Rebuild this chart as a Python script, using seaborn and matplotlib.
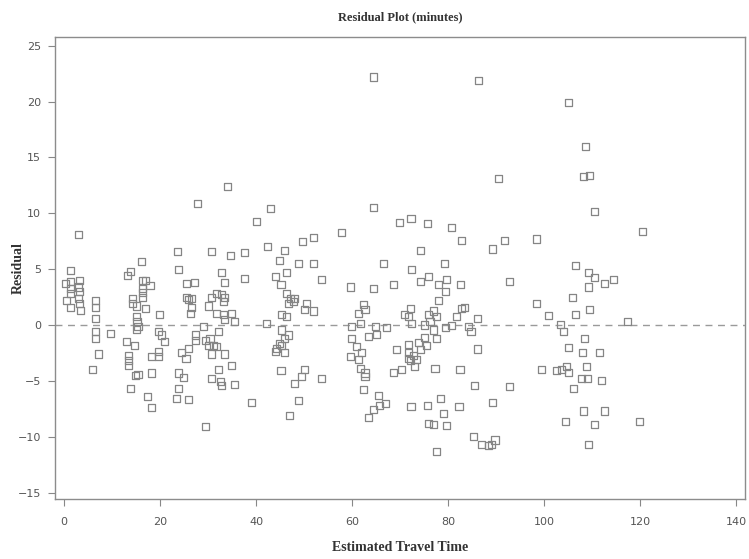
import matplotlib
matplotlib.use("Agg")
import matplotlib.pyplot as plt
import seaborn as sns
import pandas as pd

x_est = [
    # upper region
    3.0, 16.2, 23.6, 27.8, 30.8, 34.0, 34.6, 37.6, 40.0, 43.0, 42.4, 46.0, 44.8, 49.6, 52.0, 48.8, 52.0, 57.8,
    64.4, 86.3, 105.1, 108.7, 108.3, 109.4, 90.5, 64.4, 110.6, 69.9, 72.3, 75.7, 80.7, 82.8, 91.7, 98.5, 89.2, 74.2, 120.5,
    # 0-20
    1.25, 0.2, 1.25, 3.3, 1.25, 3.0, 1.25, 3.3, 0.55, 3.0, 1.25, 3.3, 3.5,
    6.5, 6.5, 6.5, 6.5, 6.5, 9.6, 7.15, 5.9,
    13.75, 13.3, 16.3, 16.9, 17.9, 16.3, 16.3, 16.3, 14.2, 14.2, 15.0, 16.9, 15.0, 15.2, 15.4, 15.0,
    13.1, 14.6, 13.5, 13.5, 13.5, 18.3, 14.8, 15.4, 13.75, 17.4, 18.3, 18.3,
    # 20-40
    23.8, 32.8, 33.4, 37.6, 25.6, 27.1, 25.5, 25.9, 26.5, 26.5, 26.25, 31.8, 30.8, 32.8, 33.5, 33.2, 30.1,
    31.8, 33.2, 34.9, 33.5, 35.6, 19.8, 29.0, 32.1, 19.6, 20.3, 21.0, 27.3, 27.3, 29.4, 30.4, 30.1, 31.1,
    31.8, 30.8, 33.5, 25.9, 24.5, 25.4, 19.65, 19.65, 34.9, 32.1, 30.8, 32.5, 32.8, 35.6, 23.8, 24.9, 23.8,
    23.5, 25.9, 29.4, 39.1,
    # 40-60
    46.4, 44.0, 45.2, 53.7, 59.6, 46.4, 47.1, 48.1, 46.7, 47.8, 50.6, 50.1, 51.9, 45.3, 46.4, 42.2, 45.3,
    46.7, 46.0, 45.3, 44.3, 44.0, 45.9, 44.8, 45.2, 50.1, 49.5, 48.0, 53.7, 48.8, 46.9, 59.9, 59.9, 59.6,
    # 60-80
    66.5, 72.4, 79.2, 74.2, 76.0, 79.7, 78.0, 79.5, 68.6, 64.4, 78.0, 62.4, 62.7, 61.3, 72.1, 71.0, 71.7,
    76.9, 75.9, 77.6, 76.25, 61.7, 64.8, 67.2, 72.4, 75.2, 79.4, 80.8, 76.9, 77.6, 63.4, 65.1, 75.2, 73.8,
    75.6, 71.7, 74.2, 71.7, 72.8, 71.7, 73.5, 73.1, 72.1, 70.35, 69.3, 68.6, 77.3, 61.0, 61.9, 61.3, 61.7,
    62.7, 62.7, 62.35, 65.5, 66.9, 65.8, 64.4, 63.4, 72.3, 75.8, 78.5, 79.0, 76.0, 76.9, 79.7, 77.6,
    # 80-100
    82.7, 92.9, 98.5, 100.9, 83.5, 82.8, 81.8, 86.2, 84.2, 84.8, 86.2, 82.5, 99.4, 85.6, 92.9, 82.3, 89.2,
    85.3, 87.0, 88.4, 89.0, 89.8,
    # 100-120
    106.5, 109.2, 110.6, 112.6, 114.4, 109.2, 105.9, 109.4, 106.6, 103.5, 104.0, 117.4, 108.4, 105.1, 108.0,
    111.5, 104.7, 108.9, 102.6, 103.6, 105.1, 107.8, 109.0, 111.9, 106.1, 108.2, 112.6, 104.5, 110.6, 120.0, 109.2,
]

residual = [
    8.06, 5.7, 6.6, 10.9, 6.6, 12.4, 6.2, 6.5, 9.25, 10.4, 7.0, 6.7, 5.8, 7.5, 7.8, 5.5, 5.5, 8.3,
    22.2, 21.9, 19.9, 16.0, 13.3, 13.4, 13.1, 10.5, 10.2, 9.2, 9.55, 9.1, 8.75, 7.6, 7.55, 7.7, 6.8, 6.7, 8.4,
    4.9, 3.7, 3.9, 4.0, 3.3, 3.4, 2.8, 3.0, 2.2, 2.4, 1.6, 1.9, 1.3,
    2.2, 1.6, 0.6, -0.6, -1.2, -0.8, -2.6, -4.0,
    4.8, 4.4, 4.0, 4.0, 3.5, 3.3, 2.9, 2.5, 2.4, 1.9, 1.7, 1.5, 0.8, 0.3, -0.1, -0.4,
    -1.5, -1.8, -2.7, -3.2, -3.6, -2.8, -4.5, -4.4, -5.7, -6.4, -7.4, -4.3,
    5.0, 4.7, 3.8, 4.2, 3.7, 3.8, 2.5, 2.3, 2.4, 1.6, 1.05, 2.8, 2.45, 2.7, 2.45, 2.1, 1.7,
    1.05, 0.9, 1.05, 0.45, 0.3, 0.9, -0.15, -0.55, -0.6, -0.9, -1.5, -0.9, -1.35, -1.35, -1.2, -1.8, -1.8,
    -1.9, -2.6, -2.6, -2.1, -2.5, -3.0, -2.4, -2.8, -3.6, -4.0, -4.8, -5.1, -5.4, -5.3, -4.3, -4.7, -5.7,
    -6.6, -6.7, -9.1, -6.9,
    4.7, 4.3, 3.6, 4.1, 3.4, 2.8, 2.4, 2.4, 1.9, 2.1, 1.9, 1.35, 1.25, 0.9, 0.75, 0.15, -0.45,
    -0.9, -1.25, -1.8, -2.1, -2.4, -2.5, -1.65, -4.1, -4.0, -4.6, -5.2, -4.8, -6.8, -8.1, -0.15, -1.2, -2.8,
    5.5, 5.0, 5.5, 3.9, 4.3, 4.1, 3.6, 3.0, 3.6, 3.3, 2.2, 1.8, 1.35, 1.05, 1.5, 0.95, 0.75,
    1.25, 0.9, 0.75, 0.3, 0.15, -0.15, -0.25, 0.15, 0.0, -0.25, -0.05, -0.45, -1.2, -1.05, -0.85, -1.1, -1.55,
    -1.85, -1.75, -2.2, -2.5, -2.7, -3.0, -3.1, -3.7, -3.2, -4.0, -2.2, -4.25, -3.9, -1.9, -2.5, -3.1, -3.9,
    -4.3, -4.6, -5.8, -6.3, -7.0, -7.2, -7.6, -8.3, -7.3, -7.2, -6.6, -7.9, -8.8, -8.95, -9.0, -11.35,
    3.6, 3.9, 1.9, 0.85, 1.6, 1.5, 0.75, 0.55, -0.15, -0.55, -2.15, -4.0, -4.0, -5.4, -5.5, -7.3, -6.9,
    -10.0, -10.7, -10.8, -10.7, -10.3,
    5.3, 4.7, 4.25, 3.7, 4.1, 3.4, 2.5, 1.35, 0.9, 0.05, -0.6, 0.35, -1.2, -2.0, -2.45,
    -2.45, -3.7, -3.7, -4.1, -4.0, -4.25, -4.8, -4.8, -4.95, -5.7, -7.7, -7.7, -8.6, -8.9, -8.6, -10.7,
]

x_ticks = [0, 20, 40, 60, 80, 100, 120, 140]
y_ticks = [-15, -10, -5, 0, 5, 10, 15, 20, 25]

df = pd.DataFrame({"Estimated Travel Time": x_est, "Residual": residual})

sns.set_theme(style="ticks")
plt.rcParams["font.family"] = ["DejaVu Sans"]

fig = plt.figure(figsize=(7.49, 5.59), dpi=100)
ax = fig.add_axes([0.0734, 0.1073, 0.9213, 0.8265])

grey = "#858585"
ax.axhline(0, color="#9a9a9a", lw=1.0, ls=(0, (5, 4)), zorder=1)
sns.scatterplot(data=df, x="Estimated Travel Time", y="Residual", ax=ax,
                marker="s", s=26, facecolor="none", edgecolor=grey, linewidth=0.9, zorder=2)

ax.set_xlim(-1.9, 141.9)
ax.set_ylim(-15.58, 25.78)
ax.set_xticks(x_ticks)
ax.set_yticks(y_ticks)
ax.set_xticklabels([str(t) for t in x_ticks])
ax.set_yticklabels([str(t) if t >= 0 else "\u2212" + str(-t) for t in y_ticks])
ax.tick_params(axis="both", colors="#888888", labelcolor="#555555", labelsize=8, length=5, width=0.8)
ax.tick_params(axis="x", pad=8)
ax.tick_params(axis="y", pad=5)

for sp in ax.spines.values():
    sp.set_visible(True)
    sp.set_color("#8c8c8c")
    sp.set_linewidth(1.0)

serif = ["Liberation Serif", "DejaVu Serif"]
ax.set_xlabel("Estimated Travel Time", fontsize=10, fontweight="bold", family=serif, color="#333333")
ax.set_ylabel("Residual", fontsize=10, fontweight="bold", family=serif, color="#333333")
ax.yaxis.set_label_coords(-0.044, 0.5)
ax.xaxis.set_label_coords(0.5, -0.09)
ax.set_title("Residual Plot (minutes)", fontsize=9, fontweight="bold", family=serif, color="#333333", pad=12)

fig.savefig("out.png", dpi=100)
